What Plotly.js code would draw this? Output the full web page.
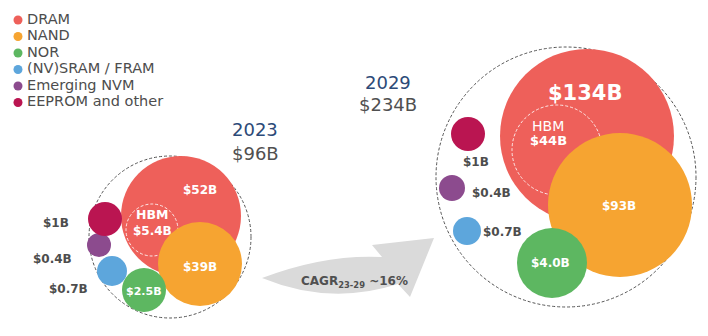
<!DOCTYPE html>
<html><head><meta charset="utf-8">
<script src="https://cdn.plot.ly/plotly-3.0.1.min.js"></script>
<style>html,body{margin:0;padding:0;background:#fff}</style>
</head><body><div id="chart" style="width:708px;height:336px"></div>
<script>
// ---- data ----
const categories = ['DRAM', 'NAND', 'NOR', '(NV)SRAM / FRAM', 'Emerging NVM', 'EEPROM and other'];
const years = ['2023', '2029'];
const values2023 = [52, 39, 2.5, 0.7, 0.4, 1];
const values2029 = [134, 93, 4.0, 0.7, 0.4, 1];
const hbmValues = [5.4, 44];
const totals = [96, 234];
const cagrPeriod = '23-29';
const cagrValue = 16;

// ---- styles ----
const colors = ['#EE605A', '#F6A431', '#5DB761', '#5DA6DC', '#8C4B8E', '#BA1551'];
const FONT = 'DejaVu Sans, sans-serif';
const DARK = '#4d4d4d';
const NAVY = '#2C4A78';

// ---- layout geometry (pixels on a 708x336 canvas) ----
const geom = [
  { cx: [181, 200, 144, 112, 99, 105], cy: [216, 264, 290, 271, 245, 219], r: [60, 42, 22, 15, 12, 17],
    outer: [170, 237, 81], hbm: [152, 230, 26],
    lab: [[200, 190, 12], [200, 267, 12], [144, 291, 11], [68, 289, 12], [52, 259, 12], [56, 223, 12]],
    hbmLab: [152, 214, 231, true], title: [255, 129, 153] },
  { cx: [587, 620, 552, 467, 452, 468], cy: [136, 205, 263, 231, 188, 134], r: [87, 72, 35, 14, 13, 17],
    outer: [566, 177, 130], hbm: [557, 150, 45],
    lab: [[585, 93, 21], [619, 206, 12], [550, 263, 12], [502, 232, 12], [491, 193, 12], [476, 162, 12]],
    hbmLab: [548, 126, 140, false], title: [388, 82, 104] }
];
const legendX = 18, legendTextX = 27, legendTop = 20, legendStep = 16.5;

const series = [values2023, values2029];
function fmt(v) { return '$' + ((v >= 10 || v === 1) ? String(v) : v.toFixed(1)) + 'B'; }

const traces = [];
// DRAM on first subplot (below HBM outline)
traces.push({
  type: 'scatter', mode: 'markers', xaxis: 'x', yaxis: 'y', hoverinfo: 'skip', showlegend: false,
  name: categories[0], x: geom.map(g => g.cx[0]), y: geom.map(g => g.cy[0]),
  customdata: series.map(s => s[0]),
  marker: { color: colors[0], size: geom.map(g => 2 * g.r[0]), sizemode: 'diameter', line: { width: 0 }, opacity: 1 }
});
// other categories on second subplot (above HBM outline)
for (let i = 1; i < categories.length; i++) {
  traces.push({
    type: 'scatter', mode: 'markers', xaxis: 'x2', yaxis: 'y2', hoverinfo: 'skip', showlegend: false,
    name: categories[i], x: geom.map(g => g.cx[i]), y: geom.map(g => g.cy[i]),
    customdata: series.map(s => s[i]),
    marker: { color: colors[i], size: geom.map(g => 2 * g.r[i]), sizemode: 'diameter', line: { width: 0 }, opacity: 1 }
  });
}
// custom legend: dots + labels
traces.push({
  type: 'scatter', mode: 'markers', xaxis: 'x2', yaxis: 'y2', hoverinfo: 'skip', showlegend: false,
  x: categories.map(() => legendX), y: categories.map((c, i) => legendTop + i * legendStep),
  marker: { color: colors, size: 9, line: { width: 0 } }
});
traces.push({
  type: 'scatter', mode: 'text', xaxis: 'x2', yaxis: 'y2', hoverinfo: 'skip', showlegend: false,
  x: categories.map(() => legendTextX), y: categories.map((c, i) => legendTop + i * legendStep),
  text: categories, textposition: 'middle right',
  textfont: { family: FONT, size: 14.5, color: DARK }
});

const shapes = [];
const annotations = [];
geom.forEach((g, k) => {
  shapes.push({ type: 'circle', xref: 'x', yref: 'y', layer: 'below',
    x0: g.outer[0] - g.outer[2], x1: g.outer[0] + g.outer[2], y0: g.outer[1] - g.outer[2], y1: g.outer[1] + g.outer[2],
    line: { color: '#555', width: 1, dash: '3px,2px' } });
  shapes.push({ type: 'circle', xref: 'x2', yref: 'y2', layer: 'below',
    x0: g.hbm[0] - g.hbm[2], x1: g.hbm[0] + g.hbm[2], y0: g.hbm[1] - g.hbm[2], y1: g.hbm[1] + g.hbm[2],
    line: { color: 'rgba(255,255,255,0.85)', width: 1, dash: '3px,2px' } });
  const vals = series[k];
  for (let i = 0; i < categories.length; i++) {
    const inside = i <= 2;
    annotations.push({ xref: 'x', yref: 'y', x: g.lab[i][0], y: g.lab[i][1], showarrow: false,
      xanchor: 'center', yanchor: 'middle', text: '<b>' + fmt(vals[i]) + '</b>',
      font: { family: FONT, size: g.lab[i][2], color: inside ? '#ffffff' : DARK } });
  }
  annotations.push({ xref: 'x', yref: 'y', x: g.hbmLab[0], y: g.hbmLab[1], showarrow: false,
    text: g.hbmLab[3] ? '<b>HBM</b>' : 'HBM', font: { family: FONT, size: g.hbmLab[3] ? 12.5 : 14, color: '#ffffff' } });
  annotations.push({ xref: 'x', yref: 'y', x: g.hbmLab[0], y: g.hbmLab[2], showarrow: false,
    text: '<b>' + fmt(hbmValues[k]) + '</b>', font: { family: FONT, size: g.hbmLab[3] ? 12 : 13, color: '#ffffff' } });
  annotations.push({ xref: 'x', yref: 'y', x: g.title[0], y: g.title[1], showarrow: false,
    text: years[k], font: { family: FONT, size: 18, color: NAVY } });
  annotations.push({ xref: 'x', yref: 'y', x: g.title[0], y: g.title[2], showarrow: false,
    text: '$' + totals[k] + 'B', font: { family: FONT, size: 18, color: '#505050' } });
});
// growth arrow
shapes.push({ type: 'path', xref: 'x', yref: 'y', layer: 'below',
  path: 'M262,278 Q325,254 382,257 L372,245 L434,238 L410,297 L398,284 Q330,306 262,278 Z',
  fillcolor: '#DADADA', line: { width: 0 } });
annotations.push({ xref: 'x', yref: 'y', x: 354, y: 282, showarrow: false,
  text: '<b>CAGR<sub>' + cagrPeriod + '</sub> ~' + cagrValue + '%</b>',
  font: { family: FONT, size: 12, color: '#505050' } });

const ax = (anchor) => ({ range: [0, 708], domain: [0, 1], visible: false, fixedrange: true, anchor: anchor });
const ay = (anchor) => ({ range: [336, 0], domain: [0, 1], visible: false, fixedrange: true, anchor: anchor });

const layout = {
  width: 708, height: 336, margin: { l: 0, r: 0, t: 0, b: 0 },
  paper_bgcolor: '#ffffff', plot_bgcolor: 'rgba(0,0,0,0)', showlegend: false,
  xaxis: ax('y'), yaxis: ay('x'), xaxis2: ax('y2'), yaxis2: ay('x2'),
  shapes: shapes, annotations: annotations, hovermode: false
};
Plotly.newPlot('chart', traces, layout, { staticPlot: true, displayModeBar: false });
</script></body></html>
